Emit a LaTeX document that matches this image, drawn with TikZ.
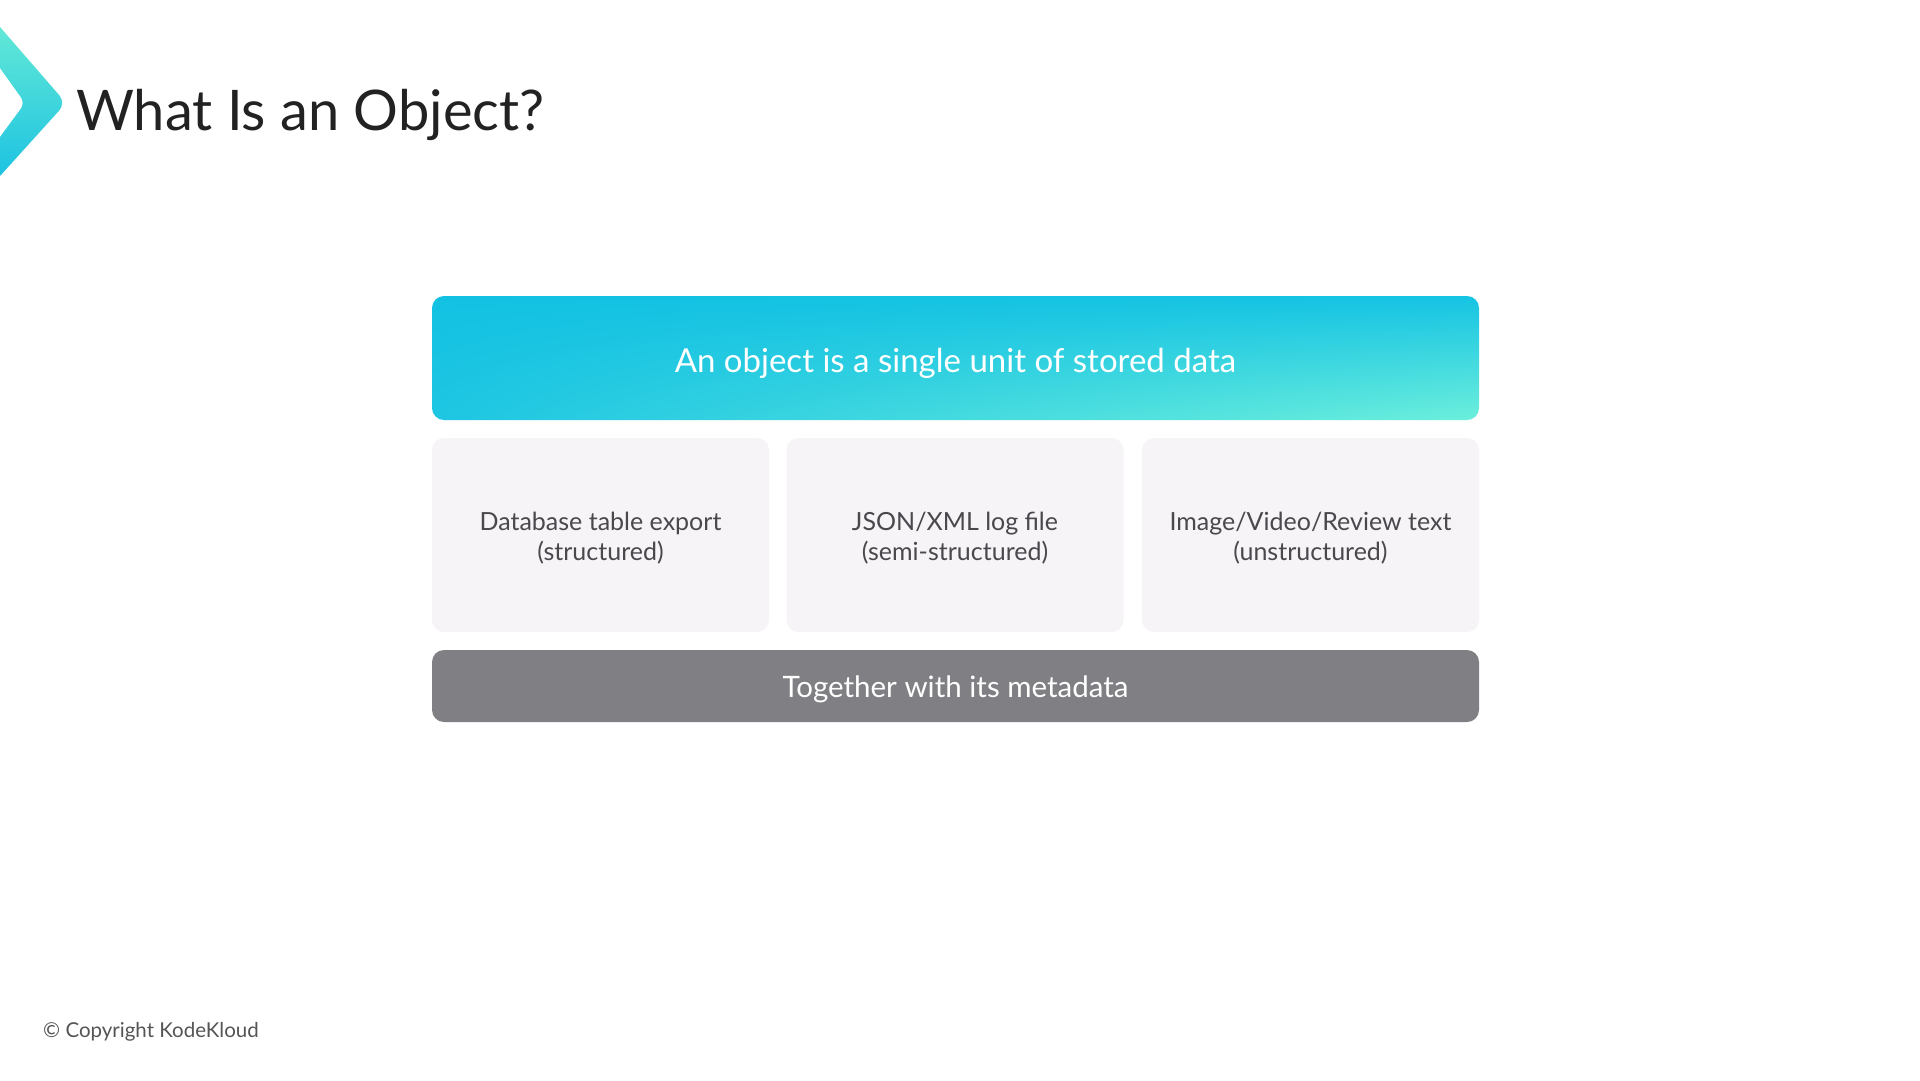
\documentclass[tikz,border=0pt]{standalone}
\usepackage{fontspec}
\usetikzlibrary{shadings}
\setmainfont{Lato}
\definecolor{chevtop}{HTML}{62E8D6}
\definecolor{chevbot}{HTML}{1DC3E2}
\definecolor{cyanA}{HTML}{12C1E2}
\definecolor{cyanB}{HTML}{15C3E3}
\definecolor{cyanC}{HTML}{1EC6E2}
\definecolor{aquaD}{HTML}{6CEFDC}
\definecolor{cardfill}{HTML}{F7F4F8}
\definecolor{cardtext}{HTML}{4A474D}
\definecolor{barfill}{HTML}{808084}
\definecolor{titletext}{HTML}{222222}
\definecolor{copytext}{HTML}{555555}
\tikzset{
  card/.style={fill=cardfill, rounded corners=12pt, minimum width=337pt, minimum height=194pt, inner sep=0pt},
  cardlabel/.style={align=center, text=cardtext, font=\fontsize{25}{29.5}\selectfont, inner sep=0pt},
  banner/.style={rounded corners=12pt, minimum width=1047pt, minimum height=124pt, inner sep=0pt},
  footbar/.style={fill=barfill, rounded corners=12pt, minimum width=1047pt, minimum height=72pt, inner sep=0pt},
}
\begin{document}
\begin{tikzpicture}[x=1pt,y=1pt]
\useasboundingbox[fill=white] (0,0) rectangle (1920,-1080);
% chevron
\shade[top color=chevtop, bottom color=chevbot]
  (0,-27) [rounded corners=10pt] -- (66,-103) [sharp corners] -- (0,-176)
  -- (0,-137) [rounded corners=7pt] -- (25,-103) [sharp corners] -- (0,-68) -- cycle;
% title
\node[anchor=base west, inner sep=0pt, text=titletext, font=\fontsize{56}{66}\selectfont] (title) at (76,-130) {What Is an Object?};
% banner
\node[banner, shade, upper left=cyanA, upper right=cyanB, lower left=cyanC, lower right=aquaD] (top) at (955.5,-358) {};
\node[text=white, font=\fontsize{33}{40}\selectfont, inner sep=0pt] (toptext) at ([yshift=-5pt]top.center) {An object is a single unit of stored data};
% cards
\node[card] (c1) at (600.5,-535) {};
\node[card] (c2) at (955,-535) {};
\node[card] (c3) at (1310.5,-535) {};
\node[cardlabel] (t1) at ([yshift=-3pt]c1.center) {Database table export\\(structured)};
\node[cardlabel] (t2) at ([yshift=-3pt]c2.center) {JSON/XML log file\\(semi-structured)};
\node[cardlabel] (t3) at ([yshift=-3pt]c3.center) {Image/Video/Review text\\(unstructured)};
% bottom bar
\node[footbar] (bar) at (955.5,-686) {};
\node[text=white, font=\fontsize{29.5}{35}\selectfont, inner sep=0pt] (bartext) at ([yshift=-3pt]bar.center) {Together with its metadata};
% copyright
\node[anchor=base west, inner sep=0pt, text=copytext, font=\fontsize{20.5}{24}\selectfont] (copy) at (43,-1037) {© Copyright KodeKloud};
\end{tikzpicture}
\end{document}
